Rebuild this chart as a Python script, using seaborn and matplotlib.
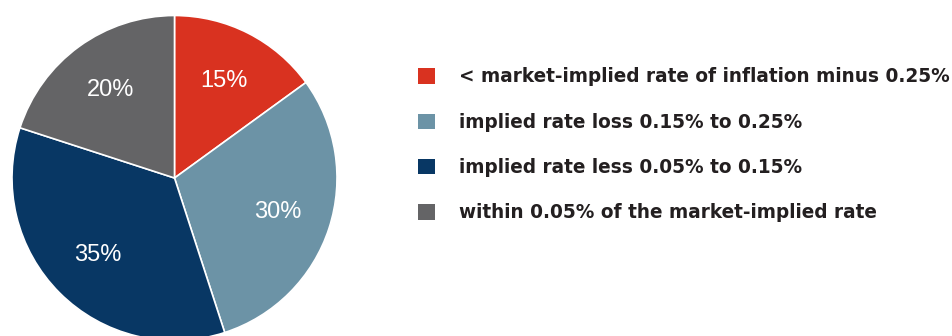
import matplotlib
matplotlib.use("Agg")
import matplotlib.pyplot as plt
import seaborn as sns

sns.set_style("white")
plt.rcParams["font.family"] = ["DejaVu Sans"]

categories = [
    "< market-implied rate of inflation minus 0.25%",
    "implied rate loss 0.15% to 0.25%",
    "implied rate less 0.05% to 0.15%",
    "within 0.05% of the market-implied rate",
]
shares = [15, 30, 35, 20]
colors = ["#D93220", "#6C93A6", "#083764", "#646466"]

fig = plt.figure(figsize=(9.52, 3.36), dpi=100)
W, H = 952, 336
cx, cy, r = 174.5, 178, 162.5
ax = fig.add_axes([(cx - r) / W, (H - cy - r) / H, 2 * r / W, 2 * r / H])

wedges, texts, autotexts = ax.pie(
    shares,
    colors=colors,
    startangle=90,
    counterclock=False,
    autopct=lambda p: f"{p:.0f}%",
    pctdistance=0.67,
    wedgeprops=dict(edgecolor="white", linewidth=1.2),
    textprops=dict(color="white", fontsize=17, fontfamily="Liberation Sans", fontweight="normal"),
)
ax.set_xlim(-1, 1)
ax.set_ylim(-1, 1)
ax.set_aspect("equal")
ax.axis("off")

leg = fig.legend(
    wedges,
    categories,
    loc="upper left",
    bbox_to_anchor=(418 / W, 1 - 67.5 / H),
    frameon=False,
    prop=dict(family="DejaVu Sans", weight="bold", size=13.35),
    handlelength=0.9,
    handleheight=0.9,
    handletextpad=1.3,
    labelspacing=1.42,
    borderpad=0,
    borderaxespad=0,
)
for t in leg.get_texts():
    t.set_color("#231F20")
for h in leg.legend_handles:
    h.set_edgecolor("none")

fig.savefig("out.png", dpi=100)
